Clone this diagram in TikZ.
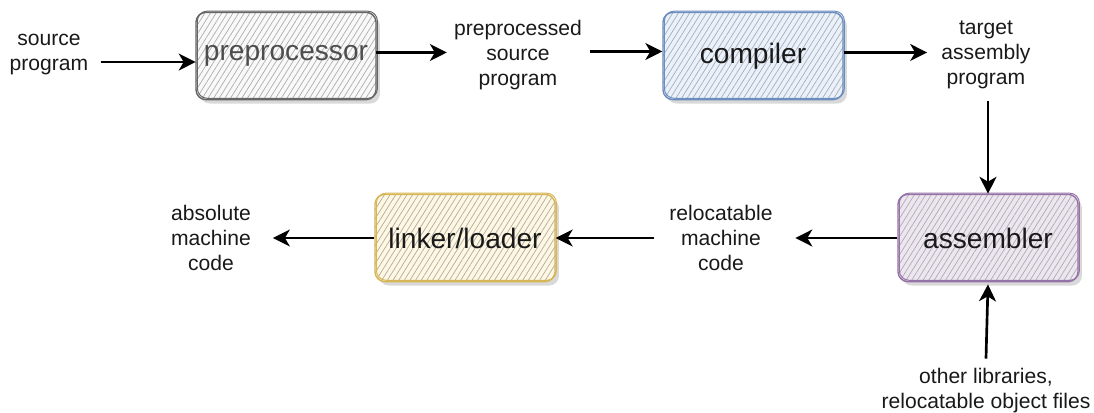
\documentclass[tikz,border=0pt]{standalone}
\usepackage{fontspec}
\setmainfont{Liberation Sans}
\usetikzlibrary{arrows.meta,patterns.meta}

\definecolor{preline}{HTML}{666666}
\definecolor{prefill}{HTML}{F5F5F5}
\definecolor{cmpline}{HTML}{6C8EBF}
\definecolor{cmpfill}{HTML}{DAE8FC}
\definecolor{asmline}{HTML}{9673A6}
\definecolor{asmfill}{HTML}{E1D5E7}
\definecolor{lnkline}{HTML}{D6B656}
\definecolor{lnkfill}{HTML}{FFF2CC}
\definecolor{pretext}{HTML}{4D4D4D}

\begin{document}
\begin{tikzpicture}[x=0.025cm,y=-0.025cm,
  lbl/.style={align=center,inner sep=0pt,font=\fontsize{15}{17.8}\selectfont,text=black!90},
  proc/.style n args={2}{rounded corners=7pt, minimum width=4.5cm, minimum height=2.18cm,
     inner sep=0pt, line width=1pt, draw=#1,
     font=\fontsize{20}{22}\selectfont, text=black!90,
     preaction={fill=black!15, transform canvas={shift={(2.8pt,-2.8pt)}}},
     preaction={fill=#2!60!white},
     pattern={Lines[angle=58,distance=3.4pt,line width=0.5pt]}, pattern color=black!32,
     postaction={draw=#1, line width=0.7pt, transform canvas={shift={(1pt,0.9pt)}}}},
  arr/.style={line width=1.9pt, -{Stealth[length=12pt,width=12pt,inset=3.5pt]}}
]
\useasboundingbox (0,0) rectangle (1094,413);

% processing stages
\node[proc={preline}{prefill}, text=pretext] (pre) at (286,56) {preprocessor};
\node[proc={cmpline}{cmpfill}] (cmp) at (753,56) {compiler};
\node[proc={asmline}{asmfill}] (asm) at (988,238) {assembler};
\node[proc={lnkline}{lnkfill}] (lnk) at (465,238) {linker/loader};

% intermediate artefacts
\node[lbl] (src) at (49,55) {source\\program};
\node[lbl] (pp)  at (518,55) {preprocessed\\source\\program};
\node[lbl] (tgt) at (986,55) {target\\assembly\\program};
\node[lbl] (rel) at (721,238) {relocatable\\machine\\code};
\node[lbl] (abs) at (211,238) {absolute\\machine\\code};
\node[lbl] (oth) at (986,391) {other libraries,\\relocatable object files};

% flow
\draw[arr] ([shift={(8.5pt,-5pt)}]src.east) -- ([yshift=-5pt]src.east -| pre.west);
\draw[arr] ([yshift=2.5pt]pre.east) -- ([shift={(-5pt,2.5pt)}]pre.east -| pp.west);
\draw[arr] ([shift={(5.5pt,2.5pt)}]pp.east) -- ([yshift=2.5pt]pp.east -| cmp.west);
\draw[arr] ([yshift=2.5pt]cmp.east) -- ([shift={(-10pt,2.5pt)}]cmp.east -| tgt.west);
\draw[arr] ([yshift=-8pt]tgt.south -| asm.north) -- (asm.north);
\draw[arr] (asm.west) -- ([xshift=16pt]asm.west -| rel.east);
\draw[arr] ([xshift=-10.5pt]rel.west) -- (rel.west -| lnk.east);
\draw[arr] (lnk.west) -- ([xshift=15.5pt]lnk.west -| abs.east);
\draw[arr] ([yshift=7pt]oth.north) -- ([yshift=-1.5pt]asm.south);
\end{tikzpicture}
\end{document}
